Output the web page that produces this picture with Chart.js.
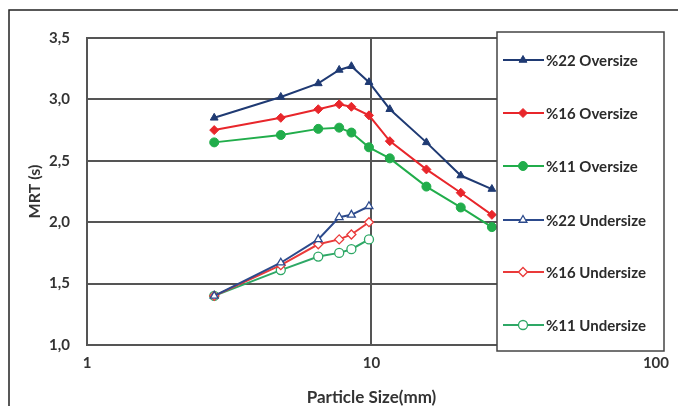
<!DOCTYPE html>
<html>
<head>
<meta charset="utf-8">
<script src="https://cdn.jsdelivr.net/npm/chart.js@4"></script>
<style>
  html, body { margin: 0; padding: 0; background: #fff; }
  #wrap { width: 678px; height: 406px; position: relative; }
</style>
</head>
<body>
<div id="wrap"><canvas id="c" width="678" height="406"></canvas></div>
<script>
// particle sizes (mm)
const overSizes = [2.8, 4.8, 6.5, 7.7, 8.5, 9.8, 11.6, 15.6, 20.6, 26.5];
const underSizes = [2.8, 4.8, 6.5, 7.7, 8.5, 9.8];

// MRT (s)
const over22 = [2.85, 3.02, 3.13, 3.24, 3.27, 3.14, 2.92, 2.65, 2.38, 2.27];
const over16 = [2.75, 2.85, 2.92, 2.96, 2.94, 2.87, 2.66, 2.43, 2.24, 2.06];
const over11 = [2.65, 2.71, 2.76, 2.77, 2.73, 2.61, 2.52, 2.29, 2.12, 1.96];
const under22 = [1.40, 1.67, 1.86, 2.04, 2.06, 2.13];
const under16 = [1.40, 1.65, 1.82, 1.86, 1.90, 2.00];
const under11 = [1.40, 1.61, 1.72, 1.75, 1.78, 1.86];

const seriesLabels = ['%22 Oversize', '%16 Oversize', '%11 Oversize',
                      '%22 Undersize', '%16 Undersize', '%11 Undersize'];
const xTicks = [1, 10, 100];
const yTicks = [1.0, 1.5, 2.0, 2.5, 3.0, 3.5];

const NAVY = '#1f3a73', RED = '#e8262b', GREEN = '#21ad4b';
const NAVY2 = '#2c4a8c', RED2 = '#ea3a3a', GREEN2 = '#2ea866';
const FONT = 'Lato';

function pts(xs, ys) {
  return xs.map((x, i) => ({x: x, y: ys[i]}));
}

function mk(label, xs, ys, color, style, open) {
  return {
    label: label,
    data: pts(xs, ys),
    borderColor: color,
    backgroundColor: open ? '#ffffff' : color,
    pointBackgroundColor: open ? '#ffffff' : color,
    pointBorderColor: color,
    pointStyle: style,
    pointRadius: 4.5,
    pointBorderWidth: open ? 1.3 : 1,
    borderWidth: 2,
    tension: 0
  };
}

const datasets = [
  mk(seriesLabels[0], overSizes, over22, NAVY, 'triangle', false),
  mk(seriesLabels[1], overSizes, over16, RED, 'rectRot', false),
  mk(seriesLabels[2], overSizes, over11, GREEN, 'circle', false),
  mk(seriesLabels[3], underSizes, under22, NAVY2, 'triangle', true),
  mk(seriesLabels[4], underSizes, under16, RED2, 'rectRot', true),
  mk(seriesLabels[5], underSizes, under11, GREEN2, 'circle', true)
];

// legend box drawn over the plot, like the original
const boxLegend = {
  id: 'boxLegend',
  afterDatasetsDraw(chart) {
    const ctx = chart.ctx;
    const x0 = 497, y0 = 32, x1 = 664, y1 = 351;
    ctx.save();
    ctx.fillStyle = '#fff';
    ctx.fillRect(x0, y0, x1 - x0, y1 - y0);
    ctx.strokeStyle = '#444';
    ctx.lineWidth = 1.5;
    ctx.strokeRect(x0, y0, x1 - x0, y1 - y0);
    const rowY = [60, 113, 166, 220, 272, 325];
    chart.data.datasets.forEach((ds, i) => {
      const y = rowY[i];
      ctx.strokeStyle = ds.borderColor;
      ctx.lineWidth = 2;
      ctx.beginPath();
      ctx.moveTo(503, y);
      ctx.lineTo(544, y);
      ctx.stroke();
      ctx.fillStyle = ds.pointBackgroundColor;
      ctx.strokeStyle = ds.pointBorderColor;
      ctx.lineWidth = ds.pointBorderWidth;
      Chart.helpers.drawPoint(ctx, {pointStyle: ds.pointStyle, radius: 4.5, borderWidth: ds.pointBorderWidth}, 523, y);
      ctx.fillStyle = '#2b2b2b';
      ctx.font = 'bold 15px ' + FONT;
      ctx.textBaseline = 'middle';
      ctx.textAlign = 'left';
      ctx.fillText(ds.label, 546, y + 1);
    });
    ctx.restore();
  }
};

// outer frame of the figure
const frame = {
  id: 'frame',
  afterDraw(chart) {
    const ctx = chart.ctx;
    ctx.save();
    ctx.strokeStyle = '#222';
    ctx.lineWidth = 1.5;
    ctx.beginPath();
    ctx.moveTo(9, 406);
    ctx.lineTo(9, 10);
    ctx.lineTo(678, 10);
    ctx.stroke();
    ctx.restore();
  }
};

new Chart(document.getElementById('c'), {
  type: 'line',
  data: { datasets: datasets },
  options: {
    responsive: false,
    animation: false,
    layout: { padding: { top: 38, right: 19, left: 0, bottom: 0 } },
    plugins: {
      legend: { display: false },
      tooltip: { enabled: false }
    },
    scales: {
      x: {
        type: 'logarithmic',
        min: 1,
        max: 100,
        afterBuildTicks(scale) {
          scale.ticks = xTicks.map(v => ({value: v}));
        },
        afterFit(scale) { scale.height = 61; },
        grid: { color: '#555', lineWidth: 2, drawTicks: false },
        border: { color: '#555', width: 2 },
        ticks: {
          padding: 9,
          color: '#333',
          font: { family: FONT, size: 15, weight: 'bold' },
          autoSkip: false,
          maxRotation: 0,
          callback: v => String(v)
        },
        title: {
          display: true,
          text: 'Particle Size(mm)',
          color: '#333',
          font: { family: FONT, size: 17, weight: 'bold', lineHeight: 1 },
          padding: { top: 0, bottom: 0 }
        }
      },
      y: {
        min: 1,
        max: 3.5,
        afterBuildTicks(scale) {
          scale.ticks = yTicks.map(v => ({value: v}));
        },
        afterFit(scale) { scale.width = 87; },
        grid: { color: '#555', lineWidth: 2, drawTicks: false },
        border: { color: '#555', width: 2 },
        ticks: {
          padding: 17,
          color: '#333',
          font: { family: FONT, size: 15, weight: 'bold' },
          callback: v => v.toFixed(1).replace('.', ',')
        },
        title: {
          display: true,
          text: 'MRT (s)',
          color: '#333',
          font: { family: FONT, size: 16, weight: 'bold', lineHeight: 1 },
          padding: { top: 27, bottom: 0 }
        }
      }
    }
  },
  plugins: [boxLegend, frame]
});
</script>
</body>
</html>
